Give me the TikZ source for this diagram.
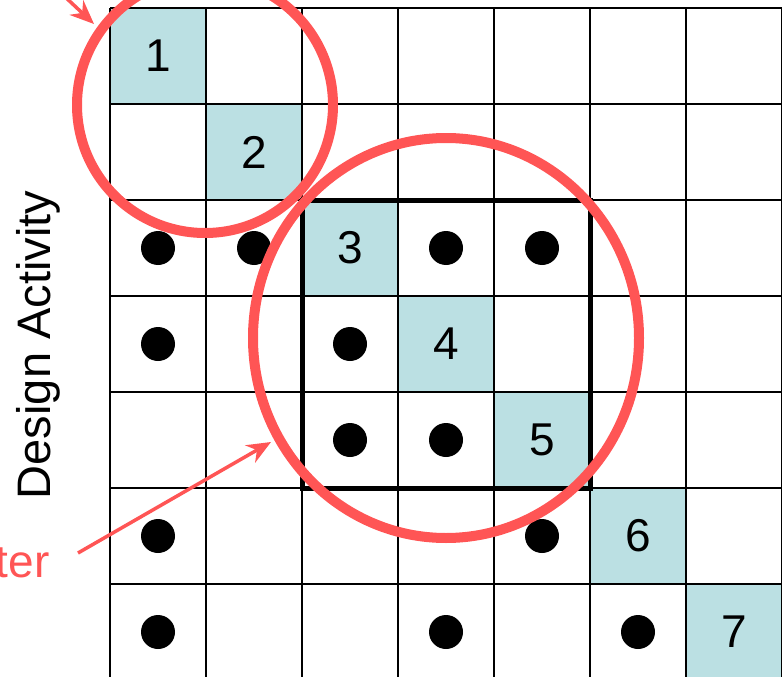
\documentclass[tikz,border=0pt]{standalone}
\usepackage{fontspec}
\setmainfont{Liberation Sans}
\usetikzlibrary{arrows.meta}
\definecolor{cellblue}{RGB}{187,224,227}
\definecolor{hired}{RGB}{255,85,85}
\tikzset{
  gridline/.style={line width=2.5pt,black},
  diagcell/.style={fill=cellblue,draw=none},
  dotmark/.style={circle,fill=black,inner sep=0pt,minimum size=34pt},
  numlabel/.style={font=\fontsize{46}{46}\selectfont,inner sep=0pt},
  clusterring/.style={draw=hired,line width=10pt},
  redarrow/.style={draw=hired,line width=3.5pt,-{Stealth[length=24pt,width=20pt]}},
  blockrect/.style={draw=black,line width=5pt}
}
\begin{document}
\begin{tikzpicture}[x=1pt,y=-1pt]
\useasboundingbox (0,0) rectangle (782,677);
\clip (0,0) rectangle (782,677);
% diagonal cells
\foreach \i in {1,...,7}{
  \fill[diagcell] ({110+(\i-1)*96},{8+(\i-1)*96}) rectangle ++(96,96);
}
% grid
\foreach \k in {0,...,7}{
  \draw[gridline] ({110+\k*96},8) -- ({110+\k*96},700);
  \draw[gridline] (110,{8+\k*96}) -- (800,{8+\k*96});
}
% numbers
\foreach \i in {1,...,7}{
  \node[numlabel] (n\i) at ({62+\i*96},{-40+\i*96}) {\i};
}
% dots (row/col)
\foreach \r/\c in {3/1,3/2,3/4,3/5,4/1,4/3,5/3,5/4,6/1,6/5,7/1,7/4,7/6}{
  \node[dotmark] (d\r\c) at ({62+\c*96},{-40+\r*96}) {};
}
% block rectangle
\draw[blockrect] (302,200) rectangle (590,488);
% red rings
\draw[clusterring] (205,105) ellipse [x radius=128, y radius=128];
\draw[clusterring] (446,338) ellipse [x radius=193, y radius=200];
% label
\node[font=\fontsize{47}{47}\selectfont,rotate=90] (lab) at (38,345) {Design Activity};
\node[font=\fontsize{46}{46}\selectfont,text=hired,anchor=base east] (clus) at (53,577) {Cluster};
\coordinate (a1s) at (62,-6);
\coordinate (a1e) at (94,24);
\coordinate (a2s) at (78,553);
\coordinate (a2e) at (271,442);
\draw[redarrow] (a1s) -- (a1e);
\draw[redarrow] (a2s) -- (a2e);
\end{tikzpicture}
\end{document}
